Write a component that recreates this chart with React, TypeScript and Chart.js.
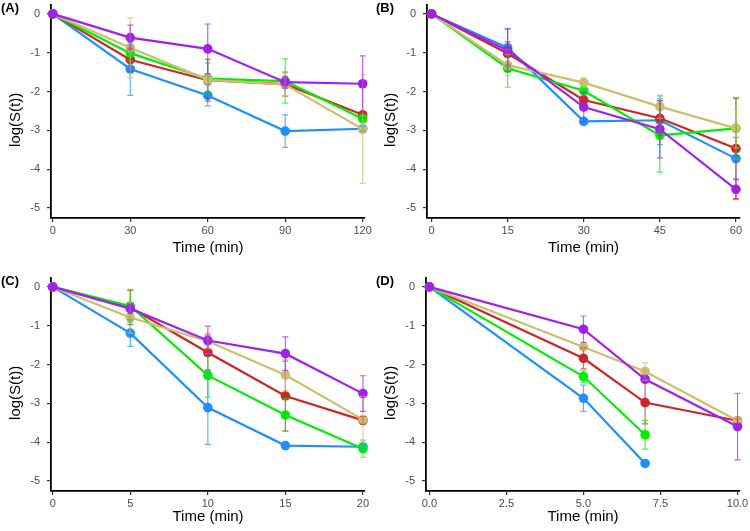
import React, { useEffect, useRef } from "react";
import { Chart, registerables } from "chart.js";

Chart.register(...registerables);

const FONT = "'Liberation Sans', Arial, Helvetica, sans-serif";
const SERIES_COLORS = ["#1E90FF", "#CD2626", "#00EE00", "#CDBE70", "#A020F0"];
const Y_TICKS = [0, -1, -2, -3, -4, -5];
const Y_TICK_LABELS = ["0", "-1", "-2", "-3", "-4", "-5"];
const X_TITLE = "Time (min)";
const Y_TITLE = "log(S(t))";

// ---------- Panel A ----------
const timesA = [0, 30, 60, 90, 120];
const xTickLabelsA = ["0", "30", "60", "90", "120"];
const blueA = [0, -1.42, -2.1, -3.02, -2.96];
const blueErrA = [0, 0.68, 0.27, 0.42, 0.06];
const redA = [0, -1.18, -1.71, -1.81, -2.6];
const redErrA = [0, 0.3, 0.54, 0.31, 0.08];
const greenA = [0, -1.01, -1.67, -1.73, -2.7];
const greenErrA = [0, 0.2, 0.4, 0.57, 0.1];
const tanA = [0, -0.87, -1.7, -1.82, -2.97];
const tanErrA = [0, 0.77, 0.15, 0.3, 1.4];
const purpleA = [0, -0.61, -0.9, -1.76, -1.8];
const purpleErrA = [0, 0.32, 0.64, 0.15, 0.72];

// ---------- Panel B ----------
const timesB = [0, 15, 30, 45, 60];
const xTickLabelsB = ["0", "15", "30", "45", "60"];
const blueB = [0, -0.87, -2.77, -2.74, -3.73];
const blueErrB = [0, 0.5, 0.05, 0.63, 0.55];
const redB = [0, -1.02, -2.22, -2.69, -3.47];
const redErrB = [0, 0.3, 0.1, 0.45, 1.29];
const greenB = [0, -1.4, -1.98, -3.13, -2.95];
const greenErrB = [0, 0.49, 0.1, 0.95, 0.8];
const tanB = [0, -1.32, -1.77, -2.39, -2.95];
const tanErrB = [0, 0.27, 0.12, 0.3, 0.5];
const purpleB = [0, -0.94, -2.4, -2.97, -4.52];
const purpleErrB = [0, 0.55, 0.38, 0.74, 0.27];

// ---------- Panel C ----------
const timesC = [0, 5, 10, 15, 20];
const xTickLabelsC = ["0", "5", "10", "15", "20"];
const blueC = [0, -1.19, -3.11, -4.09, -4.12];
const blueErrC = [0, 0.34, 0.95, 0.04, 0.05];
const redC = [0, -0.53, -1.69, -2.81, -3.44];
const redErrC = [0, 0.44, 0.45, 0.9, 0.1];
const greenC = [0, -0.49, -2.28, -3.3, -4.17];
const greenErrC = [0, 0.43, 0.56, 0.42, 0.22];
const tanC = [0, -0.79, -1.4, -2.27, -3.42];
const tanErrC = [0, 0.4, 0.2, 0.4, 0.6];
const purpleC = [0, -0.56, -1.38, -1.72, -2.75];
const purpleErrC = [0, 0.12, 0.37, 0.43, 0.46];

// ---------- Panel D ----------
const timesD = [0, 5, 7, 10];
const xTickLabelsD = ["0.0", "2.5", "5.0", "7.5", "10.0"];
const xTicksD = [0, 2.5, 5, 7.5, 10];
const blueD = [0, -2.87, -4.55, null];
const blueErrD = [0, 0.34, 0.02, 0];
const redD = [0, -1.84, -2.98, -3.45];
const redErrD = [0, 0.27, 0.55, 0.05];
const greenD = [0, -2.31, -3.81, null];
const greenErrD = [0, 0.15, 0.37, 0];
const tanD = [0, -1.55, -2.18, -3.45];
const tanErrD = [0, 0.08, 0.23, 0.05];
const purpleD = [0, -1.09, -2.38, -3.6];
const purpleErrD = [0, 0.34, 0.05, 0.86];

type PanelCfg = {
  label: string;
  times: number[];
  xTicks: number[];
  xTickLabels: string[];
  xMin: number;
  xMax: number;
  series: { values: (number | null)[]; errors: number[] }[];
  left: number;
  top: number;
  width: number;
  height: number;
  area: { l: number; r: number; t: number; b: number };
  xTitlePad: number;
};

const TOP_AREA = { l: 51, r: 365, t: 5, b: 218 };
const BOTTOM_AREA = { l: 51, r: 365, t: 13, b: 226 };

const PANELS: PanelCfg[] = [
  {
    label: "(A)",
    times: timesA,
    xTicks: timesA,
    xTickLabels: xTickLabelsA,
    xMin: -0.7,
    xMax: 120.9,
    series: [
      { values: blueA, errors: blueErrA },
      { values: redA, errors: redErrA },
      { values: greenA, errors: greenErrA },
      { values: tanA, errors: tanErrA },
      { values: purpleA, errors: purpleErrA },
    ],
    left: 0, top: 0, width: 375, height: 265, area: TOP_AREA, xTitlePad: 8,
  },
  {
    label: "(B)",
    times: timesB,
    xTicks: timesB,
    xTickLabels: xTickLabelsB,
    xMin: -0.9,
    xMax: 60.8,
    series: [
      { values: blueB, errors: blueErrB },
      { values: redB, errors: redErrB },
      { values: greenB, errors: greenErrB },
      { values: tanB, errors: tanErrB },
      { values: purpleB, errors: purpleErrB },
    ],
    left: 375, top: 0, width: 375, height: 265, area: { l: 52, r: 365, t: 5, b: 218 }, xTitlePad: 8,
  },
  {
    label: "(C)",
    times: timesC,
    xTicks: timesC,
    xTickLabels: xTickLabelsC,
    xMin: -0.11,
    xMax: 20.13,
    series: [
      { values: blueC, errors: blueErrC },
      { values: redC, errors: redErrC },
      { values: greenC, errors: greenErrC },
      { values: tanC, errors: tanErrC },
      { values: purpleC, errors: purpleErrC },
    ],
    left: 0, top: 265, width: 375, height: 266, area: BOTTOM_AREA, xTitlePad: 5,
  },
  {
    label: "(D)",
    times: timesD,
    xTicks: xTicksD,
    xTickLabels: xTickLabelsD,
    xMin: -0.11,
    xMax: 10.08,
    series: [
      { values: blueD, errors: blueErrD },
      { values: redD, errors: redErrD },
      { values: greenD, errors: greenErrD },
      { values: tanD, errors: tanErrD },
      { values: purpleD, errors: purpleErrD },
    ],
    left: 375, top: 265, width: 375, height: 266, area: BOTTOM_AREA, xTitlePad: 5,
  },
];

const errorBarPlugin = {
  id: "errorBars",
  afterDatasetsDraw(chart: any) {
    const ctx = chart.ctx;
    const xs = chart.scales.x;
    const ys = chart.scales.y;
    chart.data.datasets.forEach((ds: any) => {
      ds.data.forEach((p: any, i: number) => {
        const e = ds.errors[i];
        if (p.y == null || !e) return;
        const px = xs.getPixelForValue(p.x);
        const y1 = ys.getPixelForValue(p.y + e);
        const y2 = ys.getPixelForValue(p.y - e);
        ctx.save();
        ctx.strokeStyle = ds.borderColor;
        ctx.globalAlpha = 0.7;
        ctx.lineWidth = 1.2;
        ctx.beginPath();
        ctx.moveTo(px, y1);
        ctx.lineTo(px, y2);
        ctx.moveTo(px - 3, y1);
        ctx.lineTo(px + 3, y1);
        ctx.moveTo(px - 3, y2);
        ctx.lineTo(px + 3, y2);
        ctx.stroke();
        ctx.restore();
      });
    });
  },
};

function Panel({ cfg }: { cfg: PanelCfg }) {
  const ref = useRef<HTMLCanvasElement>(null);
  useEffect(() => {
    if (!ref.current) return;
    const { area, width, height } = cfg;
    const n = cfg.series.length;
    const datasets = cfg.series.map((s, si) => ({
      data: cfg.times.map((t, i) => ({ x: t, y: s.values[i] })),
      errors: s.errors,
      order: n - 1 - si,
      borderColor: SERIES_COLORS[si],
      backgroundColor: SERIES_COLORS[si],
      pointBackgroundColor: SERIES_COLORS[si],
      pointBorderWidth: 0,
      pointRadius: 4.8,
      borderWidth: 2.2,
      tension: 0,
      spanGaps: false,
      clip: false as any,
    }));
    const chart = new Chart(ref.current, {
      type: "line",
      data: { datasets: datasets as any },
      plugins: [errorBarPlugin],
      options: {
        animation: false,
        responsive: false,
        maintainAspectRatio: false,
        layout: { padding: { left: 0, right: width - area.r, top: area.t, bottom: 0 } },
        plugins: { legend: { display: false }, tooltip: { enabled: false } },
        scales: {
          x: {
            type: "linear",
            min: cfg.xMin,
            max: cfg.xMax,
            afterBuildTicks: (s: any) => {
              s.ticks = cfg.xTicks.map((v) => ({ value: v }));
            },
            afterFit: (s: any) => {
              s.height = height - area.b;
              s.paddingLeft = 0;
              s.paddingRight = 0;
            },
            ticks: {
              autoSkip: false,
              maxRotation: 0,
              padding: 2,
              color: "#4D4D4D",
              font: { family: FONT, size: 11 },
              callback: (_v: any, idx: number) => cfg.xTickLabels[idx],
            },
            grid: { drawOnChartArea: false, drawTicks: true, tickLength: 4, color: "#333333", lineWidth: 1.2 },
            border: { display: true, color: "#000000", width: 1.8 },
            title: {
              display: true,
              text: X_TITLE,
              color: "#000000",
              font: { family: FONT, size: 15 },
              padding: { top: 0, bottom: cfg.xTitlePad },
            },
          },
          y: {
            type: "linear",
            min: -5.26,
            max: 0.23,
            afterBuildTicks: (s: any) => {
              s.ticks = Y_TICKS.map((v) => ({ value: v }));
            },
            afterFit: (s: any) => {
              s.width = area.l;
              s.paddingTop = 0;
              s.paddingBottom = 0;
            },
            ticks: {
              autoSkip: false,
              padding: 7,
              color: "#4D4D4D",
              font: { family: FONT, size: 11 },
              callback: (_v: any, idx: number) => Y_TICK_LABELS[idx],
            },
            grid: { drawOnChartArea: false, drawTicks: true, tickLength: 4, color: "#333333", lineWidth: 1.2 },
            border: { display: true, color: "#000000", width: 1.8 },
            title: {
              display: true,
              text: Y_TITLE + "    ",
              color: "#000000",
              font: { family: FONT, size: 15 },
              padding: { top: 7, bottom: 0 },
            },
          },
        },
      } as any,
    });
    return () => chart.destroy();
  }, [cfg]);

  return (
    <div style={{ position: "absolute", left: cfg.left, top: cfg.top, width: cfg.width, height: cfg.height }}>
      <canvas ref={ref} width={cfg.width} height={cfg.height} style={{ width: cfg.width, height: cfg.height, display: "block" }} />
      <div
        style={{
          position: "absolute",
          left: 1,
          top: cfg.top === 0 ? 1 : 9,
          fontFamily: FONT,
          fontWeight: "bold",
          fontSize: 13,
          lineHeight: "13px",
          color: "#000",
        }}
      >
        {cfg.label}
      </div>
    </div>
  );
}

export default function App() {
  return (
    <div style={{ position: "absolute", left: 0, top: 0, width: 750, height: 531, background: "#fff", overflow: "hidden" }}>
      {PANELS.map((p) => (
        <Panel key={p.label} cfg={p} />
      ))}
    </div>
  );
}
